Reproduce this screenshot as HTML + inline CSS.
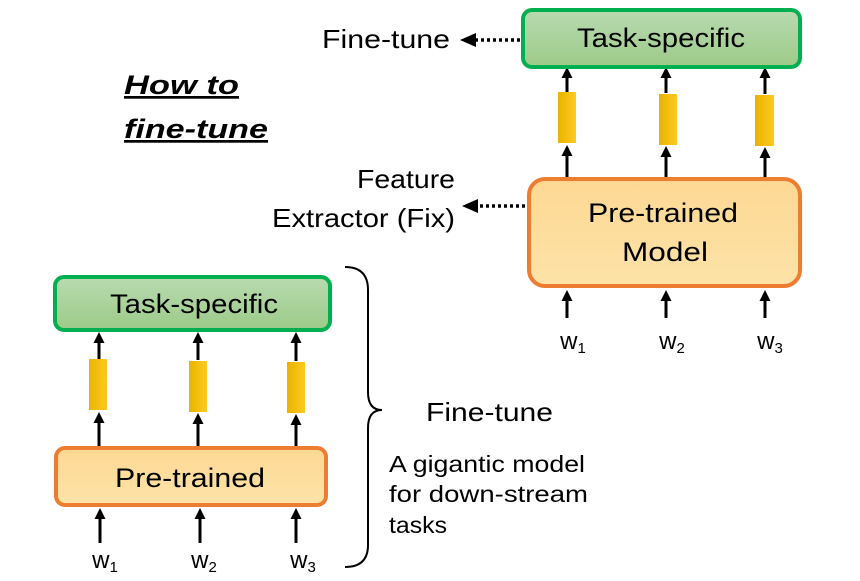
<!DOCTYPE html>
<html><head><meta charset="utf-8"><style>
html,body{margin:0;padding:0;background:#fff;}
svg{display:block;font-family:"Liberation Sans",sans-serif;}
</style></head><body>
<svg width="860" height="581" viewBox="0 0 860 581" xmlns="http://www.w3.org/2000/svg">
<defs>
<linearGradient id="g" x1="0" y1="0" x2="0" y2="1"><stop offset="0" stop-color="#b8dab0"/><stop offset="1" stop-color="#9dcb88"/></linearGradient>
<linearGradient id="o" x1="0" y1="0" x2="0" y2="1"><stop offset="0" stop-color="#fdd893"/><stop offset="1" stop-color="#fde3a8"/></linearGradient>
<linearGradient id="y" x1="0" y1="0" x2="1" y2="0"><stop offset="0" stop-color="#e8b400"/><stop offset="1" stop-color="#ffca20"/></linearGradient>
<marker id="a" markerWidth="11" markerHeight="11" refX="5" refY="5.5" orient="auto" markerUnits="userSpaceOnUse"><path d="M0,0 L11,5.5 L0,11 z" fill="#000"/></marker>
</defs>
<g stroke="#000" stroke-width="3" marker-end="url(#a)">
<line x1="567" y1="92" x2="567" y2="73"/><line x1="666" y1="93" x2="666" y2="73"/><line x1="765" y1="94" x2="765" y2="73"/>
<line x1="567" y1="177" x2="567" y2="151"/><line x1="666" y1="177" x2="666" y2="152"/><line x1="765" y1="177" x2="765" y2="153"/>
<line x1="567" y1="318" x2="567" y2="296"/><line x1="666" y1="318" x2="666" y2="296"/><line x1="765" y1="318" x2="765" y2="296"/>
<line x1="99" y1="359" x2="99" y2="338"/><line x1="198" y1="360" x2="198" y2="338"/><line x1="296" y1="361" x2="296" y2="338"/>
<line x1="99" y1="446" x2="99" y2="418"/><line x1="198" y1="446" x2="198" y2="419"/><line x1="296" y1="446" x2="296" y2="420"/>
<line x1="100" y1="543" x2="100" y2="514"/><line x1="200" y1="543" x2="200" y2="514"/><line x1="296" y1="543" x2="296" y2="514"/>
</g>
<g fill="url(#y)">
<rect x="558" y="92" width="18" height="51"/><rect x="659" y="94" width="18" height="51"/><rect x="755" y="95" width="19" height="51"/>
<rect x="89" y="359" width="18" height="51"/><rect x="189" y="361" width="18" height="51"/><rect x="287" y="362" width="18" height="51"/>
</g>
<rect x="523" y="10" width="277" height="57" rx="9" fill="url(#g)" stroke="#00b050" stroke-width="4"/>
<text x="577" y="47" font-size="27" textLength="168" lengthAdjust="spacingAndGlyphs">Task-specific</text>
<rect x="529" y="179" width="271" height="107" rx="16" fill="url(#o)" stroke="#ed7d31" stroke-width="4"/>
<text x="588" y="222" font-size="27" textLength="150" lengthAdjust="spacingAndGlyphs">Pre-trained</text>
<text x="622" y="261" font-size="27" textLength="86" lengthAdjust="spacingAndGlyphs">Model</text>
<rect x="55" y="277" width="275" height="53" rx="9" fill="url(#g)" stroke="#00b050" stroke-width="4"/>
<text x="110" y="313" font-size="27" textLength="168" lengthAdjust="spacingAndGlyphs">Task-specific</text>
<rect x="56" y="448" width="270" height="57" rx="9" fill="url(#o)" stroke="#ed7d31" stroke-width="4"/>
<text x="115" y="487" font-size="27" textLength="150" lengthAdjust="spacingAndGlyphs">Pre-trained</text>
<g font-size="24" text-anchor="middle">
<text x="573" y="349">w<tspan font-size="15" dy="4">1</tspan></text>
<text x="672" y="349">w<tspan font-size="15" dy="4">2</tspan></text>
<text x="770" y="349">w<tspan font-size="15" dy="4">3</tspan></text>
<text x="105" y="568">w<tspan font-size="15" dy="4">1</tspan></text>
<text x="204" y="568">w<tspan font-size="15" dy="4">2</tspan></text>
<text x="303" y="568">w<tspan font-size="15" dy="4">3</tspan></text>
</g>
<g stroke="#000" stroke-width="3.5" stroke-dasharray="3,3"><line x1="520" y1="40" x2="476" y2="40"/><line x1="525" y1="206" x2="478" y2="206"/></g>
<path d="M460,40 L476,33 L476,47 z"/><path d="M462,206 L478,199 L478,213 z"/>
<text x="322" y="48" font-size="26" textLength="128" lengthAdjust="spacingAndGlyphs">Fine-tune</text>
<text x="357" y="188" font-size="26" textLength="98" lengthAdjust="spacingAndGlyphs">Feature</text>
<text x="272" y="227" font-size="26" textLength="183" lengthAdjust="spacingAndGlyphs">Extractor (Fix)</text>
<g font-size="27" font-weight="bold" font-style="italic" text-decoration="underline">
<text x="124" y="94" textLength="115" lengthAdjust="spacingAndGlyphs">How to</text><text x="124" y="138" textLength="144" lengthAdjust="spacingAndGlyphs">fine-tune</text>
</g>
<path d="M345,267 Q368,267 368,290 L368,392 Q368,410 382,410 Q368,410 368,428 L368,545 Q368,567 345,567" fill="none" stroke="#000" stroke-width="2"/>
<text x="426" y="421" font-size="26" textLength="127" lengthAdjust="spacingAndGlyphs">Fine-tune</text>
<g font-size="23">
<text x="389" y="472" textLength="196" lengthAdjust="spacingAndGlyphs">A gigantic model</text>
<text x="389" y="502" textLength="199" lengthAdjust="spacingAndGlyphs">for  down-stream</text>
<text x="389" y="533" textLength="58" lengthAdjust="spacingAndGlyphs">tasks</text></g>
</svg>
</body></html>
